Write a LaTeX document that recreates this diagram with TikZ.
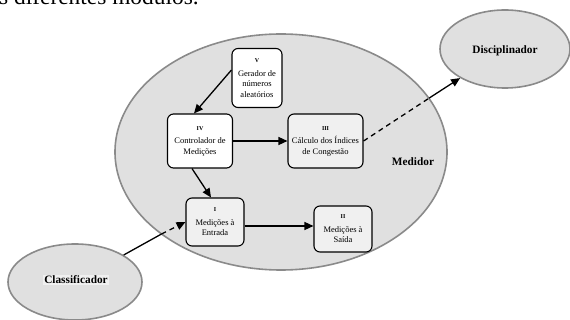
\documentclass[tikz,border=0pt]{standalone}
\usepackage{fontspec}
\setmainfont{Liberation Serif}
\usetikzlibrary{arrows.meta,shapes.geometric}
\definecolor{ellfill}{HTML}{E0E0E0}
\definecolor{elldraw}{HTML}{8A8A8A}
\definecolor{boxgray}{HTML}{F0F0F0}
\tikzset{
  bigell/.style={ellipse,draw=elldraw,line width=1.6pt,fill=ellfill,inner sep=0pt},
  modbox/.style={draw=black,line width=1.1pt,rounded corners=6pt,align=center,inner sep=0pt,font=\fontsize{8.5}{10.5}\selectfont},
  lbl/.style={font=\bfseries\fontsize{11.3}{13}\selectfont},
  conn/.style={line width=1.3pt,draw=black},
  tip/.style={-{Triangle[length=9pt,width=8pt]}},
  dashline/.style={dash pattern=on 5pt off 4pt}
}
\newcommand{\numr}[1]{{\bfseries\fontsize{6}{7}\selectfont #1}\\[3pt]}
\begin{document}
\begin{tikzpicture}[x=1pt,y=-1pt]
\useasboundingbox (0,0) rectangle (570,320);
\clip (0,0) rectangle (570,320);
\node[anchor=base west,inner sep=0pt,font=\fontsize{23.4}{26}\selectfont] (top) at (-1,4.5) {s diferentes módulos.};
% ellipses
\node[bigell,minimum width=332pt,minimum height=236pt] (med) at (281,152) {};
\node[bigell,minimum width=130pt,minimum height=78pt] (dis) at (505,49) {};
\node[bigell,minimum width=134pt,minimum height=76pt] (cl) at (75,282) {};
\node[lbl] (medl) at (413,162) {Medidor};
\node[lbl] (disl) at (505,51) {Disciplinador};
\node[lbl,fill=gray!12,inner sep=1pt] (cll) at (76,280) {Classificador};
% boxes
\node[modbox,fill=white,minimum width=50pt,minimum height=59pt] (V) at (257,78) {\numr{V}Gerador de\\números\\aleatórios};
\node[modbox,fill=white,minimum width=65pt,minimum height=54pt] (IV) at (200,141) {\numr{IV}Controlador de\\Medições};
\node[modbox,fill=boxgray,minimum width=75pt,minimum height=54pt] (III) at (325.5,141) {\numr{III}Cálculo dos Índices\\de Congestão};
\node[modbox,fill=boxgray,minimum width=58pt,minimum height=48pt] (I) at (215,222) {\numr{I}Medições à\\Entrada};
\node[modbox,fill=boxgray,minimum width=58pt,minimum height=46pt] (II) at (343,229) {\numr{II}Medições à\\Saída};
% crossing points on the Medidor border
\coordinate (cx1) at (161.5,234);
\coordinate (cx2) at (429,98.2);
% connectors
\draw[conn,tip] ([yshift=8pt]V.west) -- ([xshift=-6pt]IV.north);
\draw[conn,tip] ([xshift=-8pt]IV.south) -- ([xshift=-4pt]I.north);
\draw[conn,tip] (IV.east) -- (III.west);
\draw[conn,tip] ([yshift=-4pt]I.east) -- ([yshift=-4pt]I.east -| II.west);
\draw[conn] (cl) -- (cx1);
\draw[conn,dashline,tip] (cx1) -- (I.west);
\draw[conn,dashline] (III.east) -- (cx2);
\draw[conn,tip] (cx2) -- (dis);
\end{tikzpicture}
\end{document}
